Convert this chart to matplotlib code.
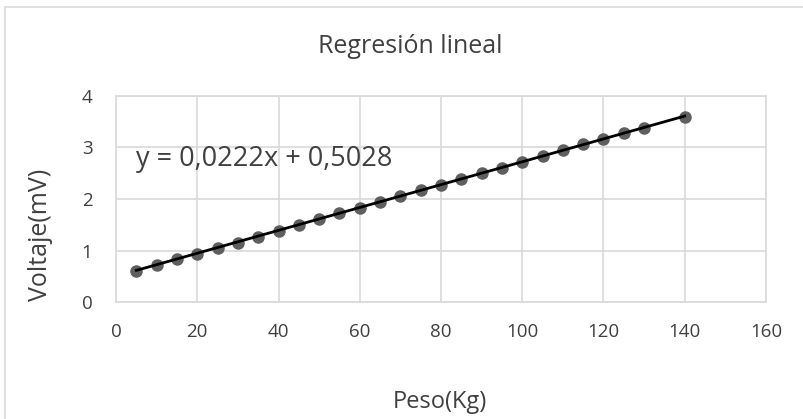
import matplotlib.pyplot as plt
from matplotlib.patches import Rectangle

# weight (kg) vs. voltage (mV)
peso = [5, 10, 15, 20, 25, 30, 35, 40, 45, 50, 55, 60, 65, 70, 75, 80, 85,
        90, 95, 100, 105, 110, 115, 120, 125, 130, 140]
voltaje = [0.60, 0.71, 0.83, 0.94, 1.05, 1.15, 1.26, 1.37, 1.49, 1.61, 1.72,
           1.83, 1.94, 2.05, 2.17, 2.28, 2.39, 2.50, 2.61, 2.72, 2.83, 2.95,
           3.06, 3.17, 3.28, 3.38, 3.60]
slope = 0.0222
intercept = 0.5028

plt.rcParams['font.family'] = ['Open Sans', 'DejaVu Sans']
txt = '#404040'
grid = '#d9d9d9'

fig = plt.figure(figsize=(8.04, 4.19), dpi=100)
ax = fig.add_axes([0.1443, 0.2792, 0.8084, 0.4917])

ax.plot(peso, voltaje, 'o', color='#5f5f5f', markersize=8, zorder=3)
xs = [peso[0], peso[-1]]
ax.plot(xs, [slope * x + intercept for x in xs], color='black', lw=2, zorder=4)

ax.set_xlim(0, 160)
ax.set_ylim(0, 4)
ax.set_xticks(range(0, 161, 20))
ax.set_yticks(range(0, 5))
ax.grid(True, color=grid, lw=1.2)
ax.set_axisbelow(True)
for s in ax.spines.values():
    s.set_color(grid)
    s.set_linewidth(1.2)
ax.tick_params(length=0, colors=txt, labelsize=13.5)
ax.tick_params(axis='x', pad=15)
ax.tick_params(axis='y', pad=17)

ax.text(4.8, 2.78, 'y = 0,0222x + 0,5028', fontsize=19.5, color=txt,
        va='center', ha='left')

fig.text(0.51, 0.888, 'Regresión lineal', ha='center', va='center',
         fontsize=18, color=txt)
fig.text(0.547, 0.04, 'Peso(Kg)', ha='center', va='center',
         fontsize=17, color=txt)
fig.text(0.05, 0.44, 'Voltaje(mV)', ha='center', va='center',
         fontsize=18, color=txt, rotation=90)

fig.patches.append(Rectangle((5 / 804, -0.05), 1.0, 1.05 - 7 / 419,
                             transform=fig.transFigure, fill=False,
                             edgecolor=grid, lw=1.2))

fig.savefig('out.png', dpi=100)
